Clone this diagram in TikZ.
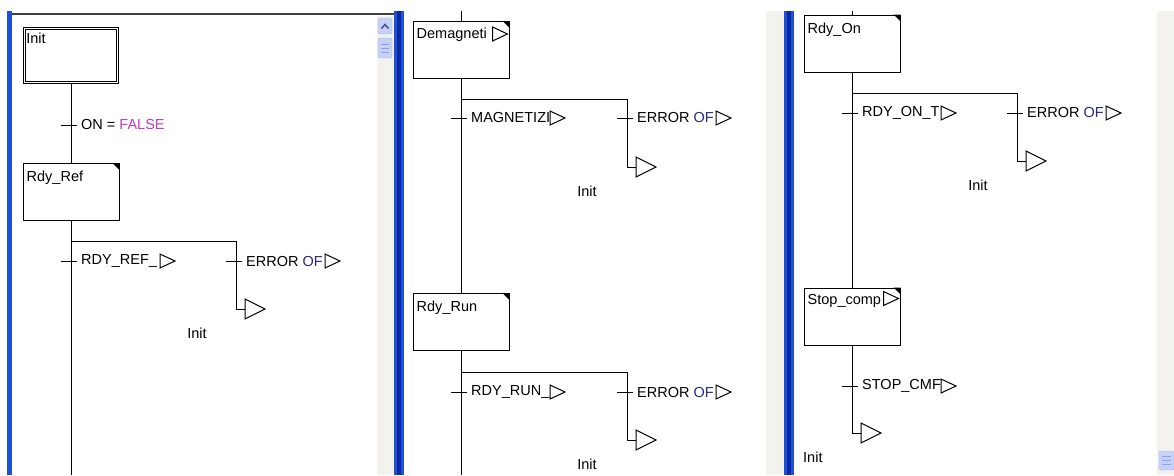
\documentclass[tikz,border=0pt]{standalone}
\usepackage{fontspec}
\setmainfont{Liberation Sans}
\definecolor{xpblue}{RGB}{30,80,215}
\definecolor{xpdark}{RGB}{10,40,160}
\definecolor{track}{RGB}{243,242,236}
\definecolor{falsec}{RGB}{190,60,190}
\definecolor{ofc}{RGB}{40,40,130}
\definecolor{thumbc}{RGB}{196,210,245}
\newcommand\transn[4]{%
  \coordinate (#1) at (#2,#3);
  \draw[ln] ([xshift=-10pt]#1) -- ([xshift=6pt]#1);
  \node[txt] (#1l) at ([xshift=10pt]#1) {#4};
}
\newcommand\trans[4]{%
  \transn{#1}{#2}{#3}{#4}
  \draw[act] ([xshift=89pt,yshift=7pt]#1) -- ([xshift=89pt,yshift=-7pt]#1) -- ([xshift=104pt]#1) -- cycle;
}
\newcommand\jump[3]{%
  \coordinate (#1) at (#2,#3);
  \draw[act] ([yshift=10pt]#1) -- ([yshift=-10pt]#1) -- ([xshift=20pt]#1) -- cycle;
}
\newcommand\corner[1]{%
  \fill (#1.north east) -- ([xshift=-7pt]#1.north east) -- ([yshift=-7pt]#1.north east) -- cycle;
}
\begin{document}
\begin{tikzpicture}[x=1pt,y=-1pt,
  ln/.style={line width=1pt},
  stepbox/.style={draw, line width=1pt, minimum width=96pt, minimum height=57pt, inner sep=0pt, fill=white},
  txt/.style={font=\fontsize{14.5}{16}\selectfont, inner sep=0pt, anchor=west},
  steptxt/.style={font=\fontsize{14.5}{16}\selectfont, inner sep=0pt, anchor=north west},
  act/.style={draw, line width=1pt, fill=white},
]
\useasboundingbox (0,0) rectangle (1174,475);
\fill[white] (0,0) rectangle (1174,475);
% ---------- window chrome ----------
\fill[track] (377,16) rectangle (394,475);
\fill[xpblue] (7,11) rectangle (12,475);
\fill[xpblue] (394,11) rectangle (404,475);
\fill[xpdark] (397,11) rectangle (401,475);
\draw[line width=2pt, black!75] (12,14) -- (394,14);
\fill[track] (766,11) rectangle (784,475);
\fill[xpblue] (784,11) rectangle (794,475);
\fill[xpdark] (787,11) rectangle (791,475);
\fill[track] (1157,11) rectangle (1174,475);
% scrollbars
\draw[fill=thumbc, draw=blue!30, rounded corners=2pt] (378,18) rectangle (392,34);
\draw[line width=1.5pt, blue!45!black!70] (381.5,28.5) -- (385,24.5) -- (388.5,28.5);
\draw[fill=thumbc, draw=blue!30, rounded corners=2pt] (378,38) rectangle (392,58);
\foreach \yy in {44,48,52} \draw[blue!40] (381,\yy) -- (389,\yy);
\draw[fill=thumbc, draw=blue!30, rounded corners=2pt] (1159,451) rectangle (1174,470);
\foreach \yy in {456,460,464} \draw[blue!40] (1162,\yy) -- (1171,\yy);
% ---------- panel 1 ----------
\node[stepbox, double, double distance=1.4pt, line width=0.9pt, minimum width=93pt, minimum height=54pt] (init) at (71,55.5) {};
\node[steptxt] (initl) at ([xshift=2pt,yshift=-5pt]init.north west) {Init};
\transn{t0}{71}{125}{ON = \textcolor{falsec}{FALSE}}
\node[stepbox] (rdyref) at (71,192) {};
\corner{rdyref}
\node[steptxt] (rdyrefl) at ([xshift=4pt,yshift=-8pt]rdyref.north west) {Rdy\_Ref};
\draw[ln] (init.south) -- (rdyref.north);
\coordinate (b1) at (71,241);
\coordinate (b1r) at (236,241);
\coordinate (end1) at (71,475);
\draw[ln] (rdyref.south) -- (end1);
\trans{t1}{71}{261}{RDY\_REF\_}
\trans{t1e}{236}{261}{ERROR \textcolor{ofc}{OF}}
\jump{j1}{245}{309}
\draw[ln] (b1) -- (b1r) |- (j1);
\node[txt, anchor=center] (i1) at (197,333) {Init};
% ---------- panel 2 ----------
\coordinate (top2) at (461,11);
\node[stepbox] (demag) at (461,50) {};
\node[steptxt] (demagl) at ([xshift=4pt,yshift=-7pt]demag.north west) {Demagneti};
\draw[act] ([xshift=-17pt,yshift=-6pt]demag.north east) -- ([xshift=-17pt,yshift=-20pt]demag.north east) -- ([xshift=-2pt,yshift=-13pt]demag.north east) -- cycle;
\corner{demag}
\draw[ln] (top2) -- (demag.north);
\node[stepbox] (rdyrun) at (461,322) {};
\corner{rdyrun}
\node[steptxt] (rdyrunl) at ([xshift=4pt,yshift=-8pt]rdyrun.north west) {Rdy\_Run};
\draw[ln] (demag.south) -- (rdyrun.north);
\coordinate (b2) at (461,99);
\coordinate (b2r) at (627,99);
\trans{t2}{461}{118}{MAGNETIZI}
\trans{t2e}{627}{118}{ERROR \textcolor{ofc}{OF}}
\jump{j2}{636}{167}
\draw[ln] (b2) -- (b2r) |- (j2);
\node[txt, anchor=center] (i2) at (587,191) {Init};
\coordinate (end2) at (461,475);
\draw[ln] (rdyrun.south) -- (end2);
\coordinate (b3) at (461,372);
\coordinate (b3r) at (627,372);
\trans{t3}{461}{392}{RDY\_RUN\_}
\trans{t3e}{627}{392}{ERROR \textcolor{ofc}{OF}}
\jump{j3}{636}{440}
\draw[ln] (b3) -- (b3r) |- (j3);
\node[txt, anchor=center] (i3) at (587,464) {Init};
% ---------- panel 3 ----------
\coordinate (top3) at (852,11);
\node[stepbox] (rdyon) at (852,43.5) {};
\corner{rdyon}
\node[steptxt] (rdyonl) at ([xshift=4pt,yshift=-8pt]rdyon.north west) {Rdy\_On};
\draw[ln] (top3) -- (rdyon.north);
\node[stepbox] (stopc) at (852,316.5) {};
\node[steptxt] (stopcl) at ([xshift=4pt,yshift=-7pt]stopc.north west) {Stop\_comp};
\draw[act] ([xshift=-17pt,yshift=-4pt]stopc.north east) -- ([xshift=-17pt,yshift=-18pt]stopc.north east) -- ([xshift=-2pt,yshift=-11pt]stopc.north east) -- cycle;
\corner{stopc}
\draw[ln] (rdyon.south) -- (stopc.north);
\coordinate (b4) at (852,93);
\coordinate (b4r) at (1017,93);
\trans{t4}{852}{113}{RDY\_ON\_T}
\trans{t4e}{1017}{113}{ERROR \textcolor{ofc}{OF}}
\jump{j4}{1026}{161}
\draw[ln] (b4) -- (b4r) |- (j4);
\node[txt, anchor=center] (i4) at (978,185) {Init};
\trans{t5}{852}{386}{STOP\_CMF}
\jump{j5}{861}{433}
\draw[ln] (stopc.south) |- (j5);
\node[txt] (i5) at (803,457) {Init};
\end{tikzpicture}
\end{document}
